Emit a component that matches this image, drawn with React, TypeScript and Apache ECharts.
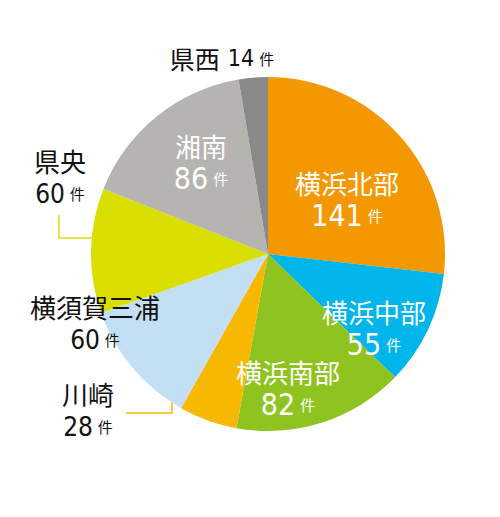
import { useEffect, useRef } from 'react'
import * as echarts from 'echarts'

// 地域別件数（12時の位置から時計回り）
const regions = ['横浜北部', '横浜中部', '横浜南部', '川崎', '横須賀三浦', '県央', '湘南', '県西']
const counts = [141, 55, 82, 28, 60, 60, 86, 14]
const colors = ['#F39800', '#00B5EA', '#8FC31F', '#F9B800', '#C3DFF4', '#DBDF00', '#B5B4B0', '#898989']
const insideLabel = [true, true, true, false, false, false, true, false]

// ラベルの中心位置（px）
const labelPos: [number, number][] = [
  [347, 199],
  [374, 328],
  [288, 388],
  [88, 410],
  [95, 323],
  [60, 177],
  [201, 162],
  [222, 58],
]

const JP = '"Noto Sans CJK JP", "Noto Sans", sans-serif'
const NUM = '"Liberation Sans Narrow", "DejaVu Sans Condensed", "Noto Sans", sans-serif'

export default function App() {
  const chartRef = useRef<HTMLDivElement>(null)

  useEffect(() => {
    if (!chartRef.current) return
    document.body.style.margin = '0'
    const chart = echarts.init(chartRef.current, undefined, { renderer: 'svg' })

    const richFor = (i: number) => {
      const inside = insideLabel[i]
      const c = inside ? '#ffffff' : '#111111'
      const small = i === 7
      return {
        name: { fontFamily: JP, fontSize: small ? 25 : 26, color: c, lineHeight: 33, align: 'center' },
        num: { fontFamily: NUM, fontSize: small ? 23 : inside ? 30 : 26, color: c, lineHeight: 33 },
        unit: { fontFamily: JP, fontSize: 15, color: c, lineHeight: 33, padding: [0, 0, 0, 5] },
        sp: { fontSize: 8, width: 8 },
      }
    }

    const option = {
      animation: false,
      series: [
        {
          type: 'pie',
          center: [268, 254],
          radius: 177,
          startAngle: 90,
          clockwise: true,
          avoidLabelOverlap: false,
          itemStyle: { borderWidth: 0 },
          labelLine: { show: false },
          emphasis: { disabled: true },
          data: regions.map((name, i) => ({
            name,
            value: counts[i],
            itemStyle: { color: colors[i] },
            label: {
              show: true,
              position: 'inside',
              rich: richFor(i),
              formatter:
                i === 7
                  ? `{name|${name}}{sp| }{num|${counts[i]}}{unit|件}`
                  : `{name|${name}}\n{num|${counts[i]}}{unit|件}`,
            },
          })),
          labelLayout: (params: any) => {
            const p = labelPos[params.dataIndex]
            return { x: p[0], y: p[1], align: 'center', verticalAlign: 'middle' }
          },
        },
      ],
      graphic: [
        {
          type: 'polyline',
          shape: { points: [[59, 215], [59, 238], [93, 238]] },
          style: { stroke: colors[5], lineWidth: 1.5, fill: 'none' },
        },
        {
          type: 'polyline',
          shape: { points: [[126, 413], [172, 413], [172, 401]] },
          style: { stroke: colors[3], lineWidth: 1.5, fill: 'none' },
        },
      ],
    }

    chart.setOption(option)
    return () => {
      chart.dispose()
    }
  }, [])

  return <div ref={chartRef} style={{ width: 500, height: 517 }} />
}
